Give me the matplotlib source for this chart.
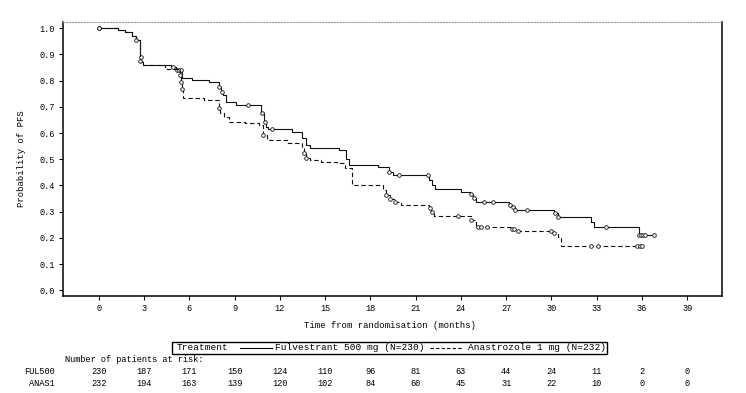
import numpy as np
import matplotlib
matplotlib.use("Agg")
import matplotlib.pyplot as plt
import matplotlib.transforms as mtransforms
from matplotlib.lines import Line2D
from matplotlib.patches import Rectangle

plt.rcParams['font.family'] = ['Liberation Mono', 'DejaVu Sans Mono']

# Kaplan-Meier steps (month, survival after the step)
ful_months = [0, 1.3, 1.75, 2.2, 2.45, 2.7, 2.75, 2.8, 2.95, 4.8, 5.15, 5.5, 6.2, 7.3,
              7.95, 8.1, 8.2, 8.4, 9.1, 10.75, 10.95, 11.05, 11.2, 12.8, 13.5, 13.7,
              14.0, 15.9, 16.4, 16.55, 18.5, 19.2, 19.5, 21.9, 22.1, 22.3, 24.0, 24.6,
              24.8, 25.0, 27.2, 27.4, 27.6, 30.2, 30.4, 32.6, 32.8, 35.8]
ful_surv = [1.0, 0.994, 0.985, 0.972, 0.955, 0.92, 0.89, 0.872, 0.86, 0.853, 0.841,
            0.809, 0.803, 0.795, 0.777, 0.758, 0.745, 0.72, 0.707, 0.676, 0.643, 0.625,
            0.614, 0.605, 0.58, 0.555, 0.542, 0.535, 0.50, 0.478, 0.472, 0.453, 0.44,
            0.42, 0.40, 0.385, 0.376, 0.368, 0.351, 0.336, 0.326, 0.316, 0.306, 0.294,
            0.281, 0.262, 0.24, 0.211]
ful_last = 36.8
ful_censor = [0.0, 2.5, 2.77, 4.9, 5.2, 5.35, 5.45, 8.0, 8.15, 9.9, 10.8, 11.0, 11.45,
              19.2, 19.9, 21.8, 24.65, 24.85, 25.5, 26.1, 27.25, 27.45, 27.6, 28.4,
              30.25, 30.45, 33.6, 35.8, 35.95, 36.05, 36.2, 36.8]

ana_months = [0, 1.3, 1.75, 2.2, 2.45, 2.7, 2.95, 4.4, 5.4, 5.45, 5.5, 5.6, 7.0, 7.95,
              8.05, 8.3, 8.6, 9.7, 10.6, 10.9, 11.15, 12.5, 13.5, 13.6, 13.75, 14.0,
              14.7, 15.8, 16.3, 16.8, 18.85, 19.05, 19.3, 19.65, 20.0, 21.9, 22.0, 22.2,
              24.7, 25.0, 27.4, 27.6, 30.1, 30.4, 30.6]
ana_surv = [1.0, 0.994, 0.985, 0.972, 0.955, 0.875, 0.86, 0.843, 0.82, 0.795, 0.77,
            0.735, 0.726, 0.695, 0.676, 0.66, 0.643, 0.637, 0.63, 0.593, 0.574, 0.561,
            0.542, 0.523, 0.504, 0.497, 0.49, 0.485, 0.467, 0.40, 0.383, 0.364, 0.347,
            0.338, 0.326, 0.313, 0.30, 0.284, 0.268, 0.243, 0.233, 0.226, 0.217, 0.205,
            0.169]
ana_last = 36.0
ana_censor = [0.0, 2.72, 5.4, 5.45, 5.5, 7.95, 10.9, 13.6, 13.75, 19.05, 19.3, 19.65,
              21.95, 22.05, 23.8, 24.7, 25.1, 25.3, 25.7, 27.4, 27.5, 27.8, 30.0, 30.2,
              32.65, 33.05, 35.7, 35.85, 36.0]

tick_months = list(range(0, 40, 3))
risk_ful = [230, 187, 171, 150, 124, 110, 96, 81, 63, 44, 24, 11, 2, 0]
risk_ana = [232, 194, 163, 139, 120, 102, 84, 60, 45, 31, 22, 10, 0, 0]


def surv_at(months, surv, t):
    i = np.searchsorted(months, t, side='right') - 1
    return np.asarray(surv)[i]


W, H = 746, 393
fig = plt.figure(figsize=(W / 100, H / 100), dpi=100)
ax = fig.add_axes([63 / W, 1 - 296 / H, 659 / W, 274 / H])

for months, surv, last, cens, ls in [
        (ful_months, ful_surv, ful_last, ful_censor, '-'),
        (ana_months, ana_surv, ana_last, ana_censor, (0, (4, 2.5)))]:
    ax.step(months + [last], surv + [surv[-1]], where='post', color='#111111',
            lw=0.8, ls=ls)
    ax.plot(cens, surv_at(months, surv, cens), 'o', ms=2.6, mfc='white',
            mec='#111111', mew=0.6, ls='none')

ax.set_xlim(-2.37, 41.3)
ax.set_ylim(-0.022, 1.024)
ax.set_xticks(tick_months)
ax.set_yticks(np.arange(0, 1.01, 0.1))
ax.set_yticklabels([f"{v:.1f}" for v in np.arange(0, 1.01, 0.1)])
ax.tick_params(labelsize=6.2, length=3, width=0.8, pad=3)

for s in ['left', 'bottom', 'right']:
    ax.spines[s].set_linewidth(1.1)
ax.spines['top'].set_color('#999999')
ax.spines['top'].set_linestyle(':')
ax.spines['top'].set_linewidth(0.8)

ax.set_ylabel('Probability of PFS', fontsize=6.4)
ax.yaxis.set_label_coords(-0.056, 0.5)
ax.set_xlabel('Time from randomisation (months)', fontsize=6.4)
ax.xaxis.set_label_coords(0.496, -0.09)

# legend box below the axis
def fx(px):
    return px / W


def fy(py):
    return 1 - py / H


fig.patches.append(Rectangle((fx(172), fy(354)), fx(607) - fx(172), fy(342) - fy(354),
                             transform=fig.transFigure, fill=False, ec='black', lw=1.0))
fs_leg = 6.8
fig.text(fx(177), fy(348), 'Treatment', fontsize=fs_leg, va='center')
fig.lines.append(Line2D([fx(240), fx(272)], [fy(348), fy(348)], transform=fig.transFigure,
                        color='black', lw=0.8))
fig.text(fx(275), fy(348), 'Fulvestrant 500 mg (N=230)', fontsize=fs_leg, va='center')
fig.lines.append(Line2D([fx(430), fx(462)], [fy(348), fy(348)], transform=fig.transFigure,
                        color='black', lw=0.8, ls=(0, (3, 2))))
fig.text(fx(468), fy(348), 'Anastrozole 1 mg (N=232)', fontsize=fs_leg, va='center')

# number at risk table
fig.text(fx(65), fy(360), 'Number of patients at risk:', fontsize=6.2, va='center')
trans = mtransforms.blended_transform_factory(ax.transData, fig.transFigure)
fig.text(fx(55), fy(372), 'FUL500', fontsize=6.2, va='center', ha='right')
fig.text(fx(55), fy(384), 'ANAS1', fontsize=6.2, va='center', ha='right')
for m, a, b in zip(tick_months, risk_ful, risk_ana):
    ax.text(m, fy(372), str(a), transform=trans, fontsize=6.2, ha='center', va='center')
    ax.text(m, fy(384), str(b), transform=trans, fontsize=6.2, ha='center', va='center')

fig.savefig('out.png', dpi=100)
